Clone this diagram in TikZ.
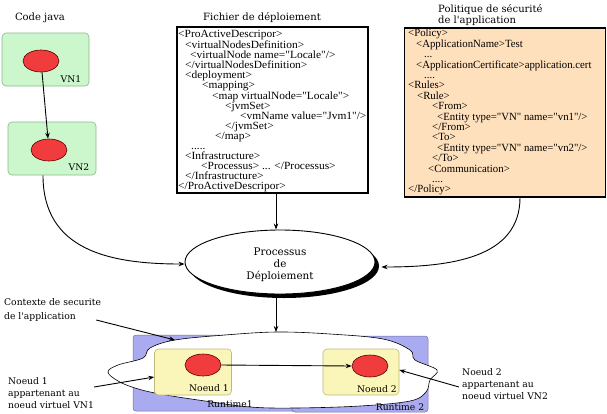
\documentclass[tikz,border=0pt]{standalone}
\usepackage{fontspec}
\newfontfamily\lblfont{DejaVu Serif}
\newfontfamily\xmlfont[FakeStretch=1.04]{Liberation Serif}
\newfontfamily\polfont[FakeStretch=0.98]{Liberation Serif}
\usetikzlibrary{shapes.geometric,arrows.meta}
\definecolor{vngreen}{RGB}{204,247,204}
\definecolor{vnborder}{RGB}{140,180,140}
\definecolor{peach}{RGB}{255,224,188}
\definecolor{lav}{RGB}{170,170,240}
\definecolor{lavborder}{RGB}{110,110,170}
\definecolor{yel}{RGB}{250,245,185}
\definecolor{yelborder}{RGB}{190,185,120}
\definecolor{redfill}{RGB}{240,60,60}
\definecolor{reddraw}{RGB}{90,0,0}
\begin{document}
\begin{tikzpicture}[x=1pt,y=-1pt,
  arr/.style={-{Stealth[length=6pt,width=4.5pt]}, line width=0.9pt},
  vnbox/.style={draw=vnborder, fill=vngreen, rounded corners=4pt, line width=0.6pt, inner sep=0},
  nbox/.style={draw=yelborder, fill=yel, rounded corners=4pt, line width=0.6pt, inner sep=0},
  runbox/.style={draw=lavborder, fill=lav, rounded corners=3pt, line width=0.5pt, inner sep=0},
  redell/.style={ellipse, draw=reddraw, fill=redfill, minimum width=36pt, minimum height=22pt, inner sep=0, line width=0.6pt},
  lbl/.style={font=\lblfont\fontsize{9.2}{12}\selectfont, inner sep=0, align=left},
  head/.style={font=\lblfont\fontsize{10}{12}\selectfont, inner sep=0},
  xmlbox/.style={draw, line width=1.2pt, inner sep=0},
  xmltext/.style={font=\xmlfont\fontsize{11}{10}\selectfont, align=left, inner sep=0, anchor=north west}
]
\useasboundingbox (0,0) rectangle (607,413);

% --- Code java ---
\node[head] (codejava) at (40,18) {Code java};
\node[vnbox, minimum width=87pt, minimum height=53pt] (vn1) at (45.5,59.5) {};
\node[vnbox, minimum width=88pt, minimum height=53pt] (vn2) at (52,148.5) {};
\node[redell] (e1) at (41,61) {};
\node[redell] (e2) at (49,150) {};
\node[lbl] (vn1lbl) at (71,79) {VN1};
\node[lbl] (vn2lbl) at (79,167) {VN2};
\draw[arr] (e1) -- (e2);

% --- Fichier de deploiement ---
\node[head] (fichier) at (262,18) {Fichier de déploiement};
\node[xmlbox, fill=white, minimum width=191pt, minimum height=166pt] (dep) at (272.5,110) {};
\node[xmltext] (deptext) at (178,30) {<ProActiveDescripor>\\
\hspace*{7pt}<virtualNodesDefinition>\\
\hspace*{12pt}<virtualNode name="Locale"/>\\
\hspace*{7pt}</virtualNodesDefinition>\\
\hspace*{7pt}<deployment>\\
\hspace*{24pt}<mapping>\\
\hspace*{34pt}<map virtualNode="Locale">\\
\hspace*{47pt}<jvmSet>\\
\hspace*{62pt}<vmName value="Jvm1"/>\\
\hspace*{47pt}</jvmSet>\\
\hspace*{37pt}</map>\\
\hspace*{13pt}.....\\
\hspace*{7pt}<Infrastructure>\\
\hspace*{23pt}<Processus> ... </Processus>\\
\hspace*{7pt}</Infrastructure>\\
</ProActiveDescripor>};

% --- Politique ---
\node[head, anchor=base west] (politique) at (438,12) {Politique de sécurité};
\node[head, anchor=base west] (politique2) at (438,23.5) {de l'application};
\node[xmlbox, fill=peach, minimum width=201pt, minimum height=169pt] (pol) at (505,112.5) {};
\node[xmltext, font=\polfont\fontsize{11}{10.4}\selectfont] (poltext) at (408,29) {<Policy>\\
\hspace*{8pt}<ApplicationName>Test\\
\hspace*{16pt}...\\
\hspace*{8pt}<ApplicationCertificate>application.cert\\
\hspace*{16pt}....\\
<Rules>\\
\hspace*{9pt}<Rule>\\
\hspace*{24pt}<From>\\
\hspace*{29pt}<Entity type="VN" name="vn1"/>\\
\hspace*{24pt}</From>\\
\hspace*{24pt}<To>\\
\hspace*{29pt}<Entity type="VN" name="vn2"/>\\
\hspace*{24pt}</To>\\
\hspace*{20pt}<Communication>\\
\hspace*{24pt}....\\
</Policy>};

% --- Processus de deploiement ---
\node[ellipse, fill=black, minimum width=190pt, minimum height=64pt] (procsh) at (284,266) {};
\node[ellipse, draw, fill=white, line width=0.9pt, minimum width=190pt, minimum height=64pt] (proc) at (280,262) {};
\node[align=center, inner sep=0, font=\lblfont\fontsize{10.4}{12}\selectfont] (proctext) at (280,265) {Processus\\de\\Déploiement};

\draw[arr] ([xshift=3.5pt]dep.south) -- ([xshift=-4pt]proc.north);
\draw[arr] ([xshift=-9pt]vn2.south) .. controls +(0,75) and +(-75,0) .. ([yshift=-2pt]proc.west);
\draw[arr] ([xshift=15pt]pol.south) .. controls +(0,60) and +(70,0) .. ([xshift=6pt,yshift=-5pt]proc.east);

% --- Runtimes and cloud ---
\node[runbox, minimum width=167pt, minimum height=76pt] (rt1) at (216.5,373) {};
\node[runbox, minimum width=136pt, minimum height=76pt] (rt2) at (360,374) {};
\draw[fill=white, line width=0.6pt] plot[smooth cycle, tension=0.6] coordinates {
 (277,332) (330,334) (383,339) (410,350) (415,360) (437,370) (430,380) (426,392) (410,401)
 (360,406) (295,408) (250,407) (205,401) (160,394) (135,388) (118,381) (108,372)
 (118,365) (143,358) (150,348) (175,340) (225,335)};
\coordinate (cloudtop) at (276,332);
\coordinate (ctxpt) at (175,340);
\node[lbl, anchor=center] (rt1lbl) at (230,404) {Runtime1};
\node[lbl, anchor=center] (rt2lbl) at (400,407) {Runtime 2};

\node[nbox, minimum width=77pt, minimum height=46pt] (n1) at (193,372) {};
\node[nbox, minimum width=76pt, minimum height=46pt] (n2) at (361,372) {};
\node[redell] (r1) at (203,365) {};
\node[redell] (r2) at (370,366) {};
\node[lbl] (n1lbl) at (209,388) {Noeud 1};
\node[lbl] (n2lbl) at (377,389) {Noeud 2};
\draw[arr] (r1.east) -- (r2.west);

\draw[arr] ([xshift=-4pt,yshift=-4pt]proc.south) -- (cloudtop);

% --- side labels ---
\node[lbl, anchor=west, font=\lblfont\fontsize{9.2}{13.5}\selectfont] (ctx) at (4,310) {Contexte de securite\\de l'application};
\draw[arr] ([xshift=-5pt,yshift=-10pt]ctx.east) -- (ctxpt);
\node[lbl, anchor=west] (lab1) at (8,393) {Noeud 1\\appartenant au\\noeud virtuel VN1};
\draw[arr] ([yshift=6pt]lab1.east) -- ([yshift=-5pt]n1.west);
\node[lbl, anchor=west] (lab2) at (462,384) {Noeud 2\\appartenant au\\noeud virtuel VN2};
\draw[arr] ([xshift=-3pt,yshift=-3pt]lab2.west) -- ([yshift=2pt]n2.east);
\end{tikzpicture}
\end{document}
